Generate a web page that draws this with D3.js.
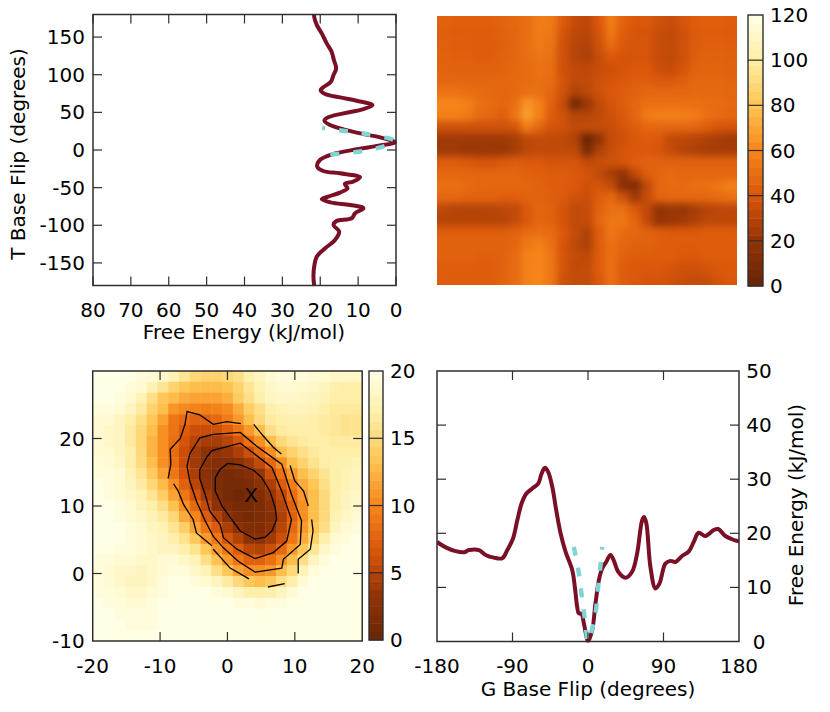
<!DOCTYPE html>
<html><head><meta charset="utf-8">
<script src="https://cdn.jsdelivr.net/npm/d3@7"></script>
<style>html,body{margin:0;padding:0;background:#fff}svg{display:block}text{font-family:"DejaVu Sans",sans-serif;font-size:20px;fill:#000}</style>
</head><body><div id="c"></div>
<script>
// Panel A: free energy vs T base flip  [energy, angle]
const tCurve=[[21.6,180],[21.6,177],[20.9,165.9],[19.6,154.9],[18.3,141.6],[17,130.5],[16.4,119.5],[15.8,108.4],[16.5,99.6],[17.2,90.7],[19.2,83.2],[19.9,79.6],[18.7,74.3],[14.8,69.9],[10.4,65.5],[6.2,59.7],[8.6,54.4],[13.9,48.7],[17.9,43.4],[18.9,38.9],[17.4,33.2],[13.9,27.4],[8.6,21.2],[4.2,16.8],[0.3,10.2],[4.6,5.8],[10.4,0.9],[16.5,-5.3],[20.1,-13.3],[20.8,-22.1],[19.2,-27.9],[14.8,-31],[9.5,-36.3],[11.3,-42],[13.5,-45.1],[12.8,-50.9],[14.8,-56.6],[17.9,-62],[19.6,-65.5],[17,-69.9],[12.1,-73],[8.6,-77.4],[10.8,-84.1],[11.7,-90.7],[15.7,-94.3],[16.5,-99.6],[15,-108.4],[16.1,-119.5],[18.7,-130.5],[20.9,-141.6],[21.6,-154.9],[21.8,-168.2],[21.6,-180]];
const tFit=[[19.5,29.5],[13.5,25.2],[7.3,20.8],[0.3,11.9],[5.1,2.2],[11.7,-3.5],[19.5,-6.5]];
// Panel D: free energy vs G base flip  [angle, energy]
const gCurve=[[-180,18.4],[-169.6,17.4],[-157.7,16.7],[-147.8,16.5],[-141.9,16.9],[-130,16.9],[-122,16],[-112.1,15.5],[-102.2,15.4],[-96.2,16.9],[-89.5,19],[-84.3,22.4],[-79.2,25.5],[-73.6,27.3],[-66.4,28.3],[-59.3,29.2],[-55.4,31],[-51.4,32.1],[-47.4,31.3],[-42.6,28.6],[-37.9,24.3],[-32.7,20],[-26.8,16.6],[-18.8,13.2],[-15.7,10.1],[-12.9,6.4],[-11,5.2],[-7.7,5.1],[-5,3.4],[-2.2,1.2],[0,0],[5,2.1],[8.9,7],[12.9,11.3],[16.9,13.5],[21.7,14.7],[26.8,16],[30.7,15],[36,12.9],[44.6,11.8],[52.6,12.9],[58.6,16.3],[64.5,22.4],[66.9,23],[69.6,21.8],[74.4,13.8],[80.4,9.8],[85.1,10.7],[92.3,14.4],[98.2,14.9],[104.2,14.7],[112.1,15.8],[120,16.6],[126,18.4],[131.9,20.1],[139.9,19.5],[149.8,20.6],[155,20.8],[163.7,19.5],[171.7,18.9],[177.6,18.6],[180,18.5]];
const gFit=[[-16.9,17.5],[-10.9,12.6],[-6.9,7.7],[-3,3.4],[0,0],[8.9,5.2],[11.7,9.5],[14.9,14.1],[16.9,17.5]];
// Panel B: 2D free energy surface, rows top to bottom
const surfaceRows=[
[45,44,44,44,44,46,48,50,56,55,42,34,32,41,56,45,41,41,37,35,39,43,44,44,43],
[44,43,43,43,43,45,47,50,56,54,39,32,30,39,54,43,39,39,35,33,37,42,43,43,42],
[44,43,43,42,42,44,47,50,55,52,37,30,28,37,49,41,39,39,35,33,37,42,44,44,43],
[45,44,44,43,43,45,47,50,53,51,37,30,27,35,41,39,39,39,35,33,37,43,45,45,44],
[46,45,45,45,45,46,48,49,52,50,37,33,32,35,37,39,41,41,36,34,39,45,46,46,45],
[47,47,47,47,47,47,48,49,51,49,39,33,33,37,39,41,43,43,41,41,44,47,47,47,46],
[52,52,50,49,48,47,48,51,51,47,37,28,32,37,41,43,45,47,47,47,47,48,48,48,47],
[60,60,58,51,49,47,51,65,58,45,34,6,22,33,39,43,47,51,51,51,51,51,50,49,48],
[58,58,56,49,47,43,53,68,58,43,37,30,30,33,37,41,47,56,58,58,58,56,51,49,47],
[37,37,37,37,37,37,39,56,47,39,37,33,34,34,35,39,43,47,47,47,47,47,43,39,39],
[24,24,24,24,24,24,26,32,34,33,33,28,2,20,34,37,41,43,41,33,32,30,28,26,24],
[24,24,22,22,22,22,26,32,33,33,33,32,10,28,35,39,41,41,39,34,30,28,26,26,26],
[43,43,41,39,39,41,43,41,41,39,39,39,33,35,37,39,43,45,45,45,45,45,45,45,45],
[47,47,47,47,47,47,47,45,44,43,43,41,39,33,26,20,33,43,47,49,47,47,47,47,47],
[51,51,49,47,47,47,47,47,45,43,43,41,37,39,34,16,12,33,47,49,49,51,51,54,58],
[47,47,45,45,45,43,43,45,45,43,41,37,35,43,47,37,24,34,45,47,47,47,47,49,51],
[32,30,30,30,30,32,33,41,47,45,39,33,34,45,51,51,41,33,20,22,22,26,30,32,32],
[30,30,30,30,30,30,34,41,47,45,39,33,34,47,54,54,47,33,20,22,24,28,32,32,32],
[43,43,43,43,43,43,45,49,51,49,41,34,28,43,54,49,47,45,43,41,41,41,43,43,43],
[45,45,45,45,45,45,47,54,58,51,39,32,28,43,51,47,45,45,43,43,43,43,43,43,43],
[45,45,45,44,44,45,49,58,60,54,39,34,32,43,51,45,43,43,43,43,41,41,43,43,43],
[43,43,43,43,43,45,49,58,60,54,39,33,34,43,51,43,41,41,41,39,37,37,39,41,41],
[43,43,43,43,43,45,49,58,60,54,37,34,34,41,51,43,41,39,39,37,35,34,35,39,41]];
// Panel C: zoomed free energy grid, rows top to bottom
const zoomRows=[
[20,20,20,20,19.5,19,18.5,17.5,16,14.8,14.5,14.5,14.8,15.5,17,18,19,19.5,19.5,19.5,19,19,18.5,18.5,18.5],
[20,20,20,19.5,19,17.5,16,14.5,13.5,13,12.8,12.8,13.2,14.5,16,17.5,18.5,19,19,18.8,18.5,18,17.2,16.8,16.8],
[20,20,19.5,19,17.5,15.5,13.5,12.8,12,11.5,11.5,11.5,12.2,13.8,15.5,17,18,18.5,18.5,18.3,18,17.5,16.8,16.8,16.8],
[19.5,19.5,19,18,16.5,14.5,13,10.8,10.2,9.8,9.5,9.8,10.3,12,14,15.5,17,17.5,18,17.8,17.5,17,16.3,16.3,16.3],
[19,19,18,17,15.5,13.5,11.5,9,8.2,7.5,7.5,8,9.3,11,13,15,16.5,17,17.3,17.3,17,16.5,16.2,15.8,15.8],
[19,18.5,18,16.5,14.8,13,10.5,8.8,7,6,5.8,6.2,7.3,9,11,13,15.5,16.5,16.8,16.8,16.8,16.5,16.2,15.8,15.8],
[19,18.5,18,16.5,14.8,12.5,10.5,8.5,6.5,5,4.3,4.3,5,6.5,8.5,10.5,13,15,16,16.5,16.8,16.8,16.5,16.5,16.5],
[19,19,18,17,15,12.5,10.5,8.2,6,4.2,3,3,3.5,4.5,6,8,10.5,13,14.5,15.5,16.3,16.8,16.8,16.8,16.8],
[19.5,19,18.5,17,15.2,13,10.5,8.5,6,4,2.8,2.2,2.2,2.8,4,5.5,8,10.5,13,14.5,15.8,16.8,17.2,17.2,17.5],
[19.5,19.5,19,17.5,16,13.8,11.5,9,6.5,4.5,2.8,1.7,1.2,1.7,2.4,3.5,6,8.5,11,13,14.5,16,17,17.5,18],
[20,19.5,19,18,16.5,14.8,12.8,10.5,7.5,5.2,3.2,1.7,1.2,1.2,1.7,2.8,4.5,7,9.5,12,13.5,15.5,17,17.5,18],
[20,19.5,19,18.5,17.5,16,14,11.5,9,6.5,4.2,2.4,1.2,0.7,1.2,2,3.5,5.5,8.5,11,13,15,17,18,18.5],
[20,20,19.5,19,18,17,15.5,13.2,10.5,8,5.5,3,1.7,1.2,1.2,1.7,2.8,5,7.5,10.5,13,15,17,18,18.5],
[20,20,19.5,19,18.5,17.5,16.5,14.8,12,10,7,4.8,2.8,1.7,1.2,1.7,2.4,4.5,7.5,10.5,13,15,17.5,18.5,19],
[20,20,20,19.5,19,18,17.5,16,14.2,11.5,9,7,4.5,2.8,2,2,3,5,8,11,13.5,15.5,18,19,19.5],
[20,20,20,19.5,19,18.5,18,17,15.8,13.5,11,9,6.5,4.8,3,2.8,4,6,9,12,14.5,17,19,19.5,20],
[20,20,19.5,19.5,19,18.5,18,18,17,15.8,13.5,11,9,7,5.2,4.8,6,8,11,13.5,16,18.5,19.5,20,20],
[19.5,19.5,19,19,18.5,18.5,19,19,18.5,17.5,15.5,13.2,11,9,7.5,7.5,8.5,10.5,13,15.5,18,19.5,20,20,20],
[19.5,19,18.5,18.5,18,18.5,19,19.5,19.5,18.5,17.5,15.5,13.5,11.5,10.5,10.5,11,13,15,17.5,19.5,20,20,20,20],
[19.5,19,18.5,18,18,18.5,19.5,20,20,19.5,19,18,16.5,15,13.5,13,13.5,15.5,17,19,20,20,20,20,20],
[19.5,19.5,19,18.5,18.5,19,19.5,20,20,20,20,19.5,19,18,17,16.8,17,18,19,20,20,20,20,20,20],
[20,19.5,19.5,19,19,19.5,20,20,20,20,20,20,20,19.5,19.5,19,19.5,19.5,20,20,20,20,20,20,20],
[20,20,19.5,19.5,19.5,19.5,20,20,20,20,20,20,20,20,20,20,20,20,20,20,20,20,20,20,20],
[20,20,20,19.5,19.5,19.5,20,20,20,20,20,20,20,20,20,20,20,20,20,20,20,20,20,20,20],
[20,20,20,20,20,20,20,20,20,20,20,20,20,20,20,20,20,20,20,20,20,20,20,20,20]];
// Panel C contours [x,y]
const contours=[
[[0,16.3],[1.9,16.1],[3.9,15.3],[5.1,14.2],[6.3,12.2],[7.1,9.7],[7.3,8],[6.6,6.3],[5.6,5.4],[4.1,5.1],[1.9,6.3],[0.4,8.3],[-0.8,10],[-1.8,12.2],[-1.8,14.2],[-1.1,15.4],[0,16.3]],
[[-4.1,14],[-4.1,15.4],[-3.1,17.2],[-2.3,18.2],[1.9,19.3],[3.9,17.8],[6.6,15.7],[8.06,12.2],[9.5,8],[8.8,4.8],[6.8,3.1],[4.1,2.2],[1.4,3.6],[-0.6,5.3],[-1.1,7.3],[-2.6,9.2],[-3.3,11.7],[-4.1,14]],
[[-6,15.9],[-5.6,17.7],[-4.1,20.1],[-2.1,20.6],[1.9,20.9],[4.3,18.9],[8.06,16.2],[9.5,11.7],[11,7.8],[10.8,4.3],[8.3,2.1],[8.06,0.8],[4.1,0.2],[1.6,1.8],[-0.6,3.8],[-2.1,5.5],[-3.3,7.8],[-4.6,10.7],[-5.6,13.7],[-6,15.9]],
[[-8.8,14.1],[-8.4,16.2],[-8.5,18.4],[-7,20],[-6.3,22.1],[-6,24],[-4.1,23.5],[-2.1,22.1],[-0.1,22.5],[2,22.2]],
[[3.9,22.1],[5.3,20.4],[6.8,18.7],[8,17.7]],
[[9.3,16],[10,13.7],[11.3,12.2],[12,10]],
[[12.5,8],[12.7,6.3],[12.3,3.6],[10.5,2.1],[10.5,0]],
[[8.5,-1.5],[6,-2]],
[[3.2,-0.8],[0.4,0.8],[-2.1,3.6]],
[[-2.3,4.1],[-4.6,6],[-5.1,8],[-6.5,10.2],[-7.3,12.2],[-8,13.3]]];
const minimum=[3.5,11.7];
const energyTicks=[80,70,60,50,40,30,20,10,0];
const angleTicks=[-150,-100,-50,0,50,100,150];
const surfaceBarTicks=[0,20,40,60,80,100,120];
const zoomXTicks=[-20,-10,0,10,20];
const zoomYTicks=[-10,0,10,20];
const zoomBarTicks=[0,5,10,15,20];
const gAngleTicks=[-180,-90,0,90,180];
const gEnergyTicks=[0,10,20,30,40,50];
const paletteStops=["#662506","#923306","#d9560a","#f7851a","#fec552","#feeda5","#ffffe5"];

const W=830,H=712,frame="#2e2e2e",curveCol="#7a1026",fitCol="#7fd4d4";
const svg=d3.select("#c").append("svg").attr("width",W).attr("height",H);
const defs=svg.append("defs");
const ramp=d3.scaleLinear().domain(paletteStops.map((_,i)=>i/(paletteStops.length-1))).range(paletteStops).interpolate(d3.interpolateRgb);
const bands=32;
const smooth=v=>ramp(Math.max(0,Math.min(1,v)));
function ticks(g,x0,x1,y0,y1,xs,ys,sx,sy,opt={}){
  const L=9;
  (opt.bottom!==false?xs:[]).forEach(t=>g.append("line").attr("x1",sx(t)).attr("x2",sx(t)).attr("y1",y1).attr("y2",y1-L));
  (opt.top!==false?xs:[]).forEach(t=>g.append("line").attr("x1",sx(t)).attr("x2",sx(t)).attr("y1",y0).attr("y2",y0+L));
  ys.forEach(t=>{g.append("line").attr("x1",x0).attr("x2",x0+L).attr("y1",sy(t)).attr("y2",sy(t));
    g.append("line").attr("x1",x1).attr("x2",x1-L).attr("y1",sy(t)).attr("y2",sy(t));});
  g.selectAll("line").attr("stroke",frame).attr("stroke-width",1.2);
  g.append("rect").attr("x",x0).attr("y",y0).attr("width",x1-x0).attr("height",y1-y0).attr("fill","none").attr("stroke",frame).attr("stroke-width",1.5);
}
function colorbar(x0,x1,y0,y1,max,tk){
  const sy=d3.scaleLinear().domain([0,max]).range([y1,y0]);
  const g=svg.append("g");
  g.selectAll("rect").data(d3.range(bands)).join("rect").attr("x",x0).attr("width",x1-x0)
    .attr("y",i=>sy((i+1)/bands*max)).attr("height",i=>sy(i/bands*max)-sy((i+1)/bands*max)+.5)
    .attr("fill",i=>ramp((i+.5)/bands));
  tk.forEach(t=>{
    if(t>0&&t<max) g.append("line").attr("x1",x0).attr("x2",x1).attr("y1",sy(t)).attr("y2",sy(t)).attr("stroke",frame).attr("stroke-width",1.2);
    g.append("text").attr("x",x1+7).attr("y",sy(t)+7).text(t);
  });
  g.append("rect").attr("x",x0).attr("y",y0).attr("width",x1-x0).attr("height",y1-y0).attr("fill","none").attr("stroke",frame).attr("stroke-width",1.4);
}
const xt=(t,x,y,a="middle")=>svg.append("text").attr("x",x).attr("y",y).attr("text-anchor",a).text(t);
const rot=(t,x,y)=>svg.append("text").attr("transform",`translate(${x},${y}) rotate(-90)`).attr("text-anchor","middle").text(t);
const cr=d3.curveCatmullRom.alpha(0.5);

// Panel A
{const x0=93,x1=396,y0=14.5,y1=285.5;
 const sx=d3.scaleLinear().domain([80,0]).range([x0,x1]),sy=d3.scaleLinear().domain([-180,180]).range([y1,y0]);
 defs.append("clipPath").attr("id","cpA").append("rect").attr("x",x0).attr("y",y0).attr("width",x1-x0+3).attr("height",y1-y0);
 const p=svg.append("g").attr("clip-path","url(#cpA)");
 const ln=d3.line().x(d=>sx(d[0])).y(d=>sy(d[1])).curve(cr);
 p.append("path").attr("d",ln(tCurve)).attr("fill","none").attr("stroke",curveCol).attr("stroke-width",4);
 p.append("path").attr("d",ln(tFit)).attr("fill","none").attr("stroke",fitCol).attr("stroke-width",4.4).attr("stroke-dasharray","9 14").attr("stroke-dashoffset",6);
 ticks(svg.append("g"),x0,x1,y0,y1,energyTicks,angleTicks,sx,sy);
 energyTicks.forEach(t=>xt(t,sx(t),317));
 angleTicks.forEach(t=>xt(t,x0-8,sy(t)+7,"end"));
 xt("Free Energy (kJ/mol)",244,339);
 rot("T Base Flip (degrees)",25,154);
}
// Panel B
{const x0=437,x1=737,y0=16,y1=285;
 const nc=surfaceRows[0].length,nr=surfaceRows.length;
 const sx=d3.scaleBand().domain(d3.range(nc)).range([x0,x1]),sy=d3.scaleBand().domain(d3.range(nr)).range([y0,y1]);
 defs.append("clipPath").attr("id","cpB").append("rect").attr("x",x0).attr("y",y0).attr("width",x1-x0).attr("height",y1-y0);
 const bl=defs.append("filter").attr("id","blurB").attr("filterUnits","userSpaceOnUse").attr("x",x0-40).attr("y",y0-40).attr("width",x1-x0+80).attr("height",y1-y0+80).attr("color-interpolation-filters","sRGB");
 bl.append("feGaussianBlur").attr("stdDeviation",3.6);
 const g=svg.append("g").attr("clip-path","url(#cpB)").append("g").attr("filter","url(#blurB)");
 const pad=30;
 surfaceRows.forEach((r,i)=>r.forEach((v,j)=>{
   const l=sx(j)-(j==0?pad:0),t=sy(i)-(i==0?pad:0);
   g.append("rect").attr("x",l).attr("y",t)
    .attr("width",sx.bandwidth()+(j==0||j==nc-1?pad:0)+.5).attr("height",sy.bandwidth()+(i==0||i==nr-1?pad:0)+.5)
    .attr("fill",smooth(v/120));
 }));
 colorbar(748,763,15,286,120,surfaceBarTicks);
}
// Panel C
{const x0=92.7,x1=362.2,y0=371,y1=641;
 const sx=d3.scaleLinear().domain([-20,20]).range([x0,x1]),sy=d3.scaleLinear().domain([-10,30]).range([y1,y0]);
 const nc=zoomRows[0].length,nr=zoomRows.length;
 const bx=d3.scaleBand().domain(d3.range(nc)).range([x0,x1]),by=d3.scaleBand().domain(d3.range(nr)).range([y0,y1]);
 const g=svg.append("g");
 zoomRows.forEach((r,i)=>r.forEach((v,j)=>{
   g.append("rect").attr("x",bx(j)).attr("y",by(i)).attr("width",bx.bandwidth()+.4).attr("height",by.bandwidth()+.4).attr("fill",smooth(v/20));
 }));
 const ln=d3.line().x(d=>sx(d[0])).y(d=>sy(d[1]));
 svg.append("g").selectAll("path").data(contours).join("path").attr("d",ln).attr("fill","none").attr("stroke","#000").attr("stroke-width",1.3);
 svg.append("text").attr("x",sx(minimum[0])).attr("y",sy(minimum[1])+7).attr("text-anchor","middle").text("X");
 ticks(svg.append("g"),x0,x1,y0,y1,zoomXTicks.slice(1,-1),zoomYTicks.slice(1),sx,sy);
 zoomXTicks.forEach(t=>xt(t,sx(t),673));
 zoomYTicks.forEach(t=>xt(t,x0-8,sy(t)+7,"end"));
 colorbar(369,383,371,640,20,zoomBarTicks);
}
// Panel D
{const x0=437,x1=739,y0=371,y1=641.5;
 const sx=d3.scaleLinear().domain([-180,180]).range([x0,x1]),sy=d3.scaleLinear().domain([0,50]).range([y1,y0]);
 defs.append("clipPath").attr("id","cpD").append("rect").attr("x",x0).attr("y",y0).attr("width",x1-x0).attr("height",y1-y0+1);
 const p=svg.append("g").attr("clip-path","url(#cpD)");
 const ln=d3.line().x(d=>sx(d[0])).y(d=>sy(d[1])).curve(cr);
 p.append("path").attr("d",ln(gCurve)).attr("fill","none").attr("stroke",curveCol).attr("stroke-width",4);
 p.append("path").attr("d",ln(gFit)).attr("fill","none").attr("stroke",fitCol).attr("stroke-width",4.4).attr("stroke-dasharray","9 12");
 ticks(svg.append("g"),x0,x1,y0,y1,gAngleTicks.slice(1,-1),gEnergyTicks.slice(1,-1),sx,sy);
 gAngleTicks.forEach(t=>xt(t,sx(t),673));
 gEnergyTicks.forEach(t=>xt(t,x1+20,sy(t)+7));
 xt("G Base Flip (degrees)",588,696);
 rot("Free Energy (kJ/mol)",803,505);
}
</script></body></html>
